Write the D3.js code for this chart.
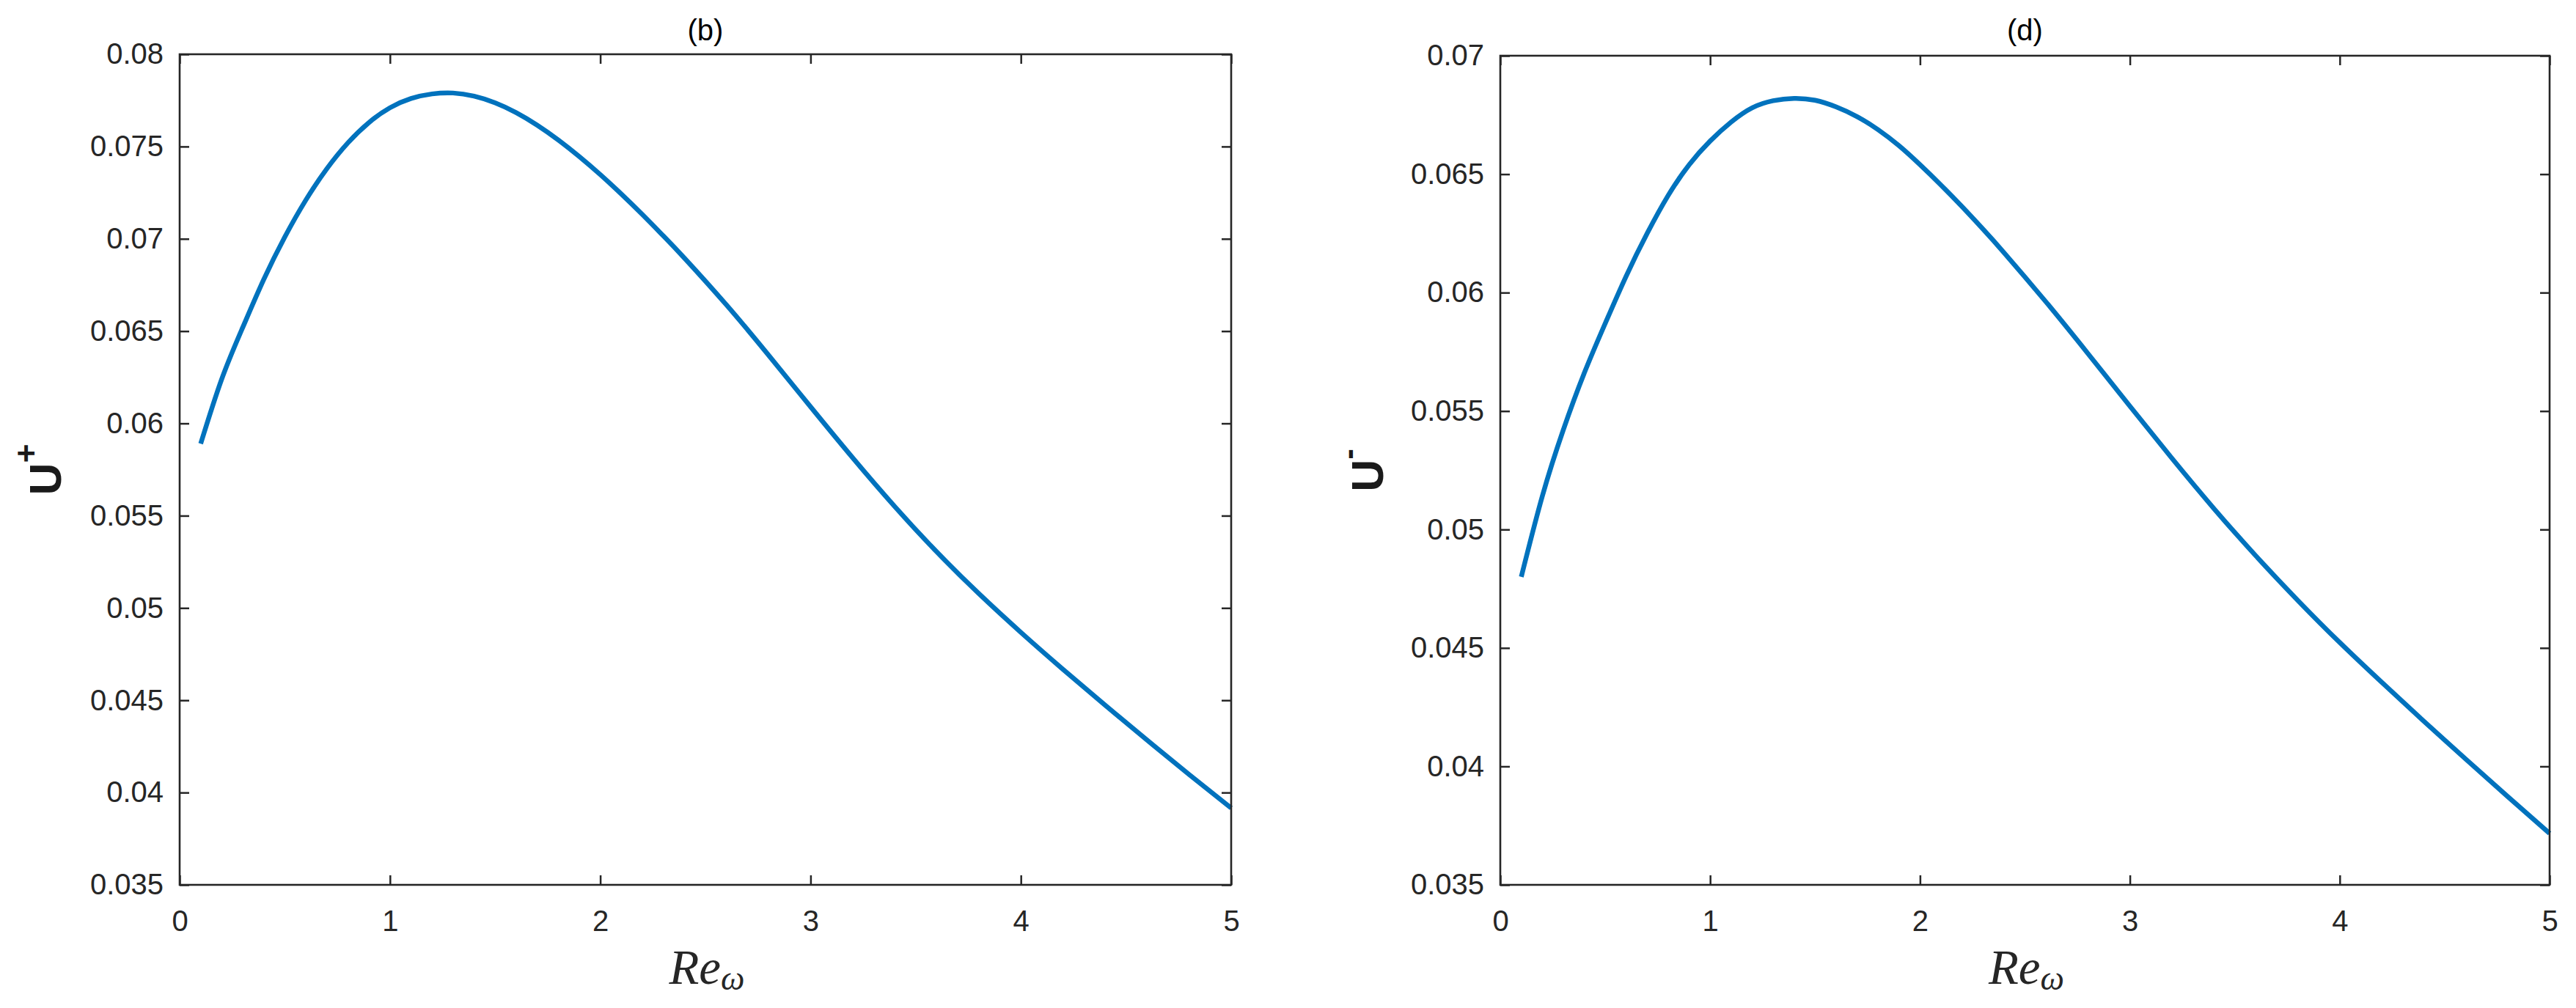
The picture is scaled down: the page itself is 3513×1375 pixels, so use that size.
<!DOCTYPE html>
<html>
<head>
<meta charset="utf-8">
<script src="https://d3js.org/d3.v7.min.js"></script>
<style>
  html, body { margin: 0; padding: 0; background: #ffffff; }
  svg { display: block; }
</style>
</head>
<body>
<svg id="chart" width="3513" height="1375"></svg>
<script>
// ---------------- data ----------------
const reOmega = [0.1, 0.2, 0.3, 0.4, 0.5, 0.6, 0.7, 0.8, 0.9, 1.0, 1.1, 1.2, 1.3, 1.4, 1.5, 1.6,
                 1.7, 1.8, 1.9, 2.0, 2.1, 2.2, 2.3, 2.4,
                 2.6, 2.8, 3.0, 3.2, 3.4, 3.6, 3.8, 4.0, 4.2, 4.4, 4.6, 4.8, 5.0];

// panel (b): U+
const uPlus = [0.0589, 0.0624, 0.0652, 0.0678, 0.0701, 0.0721, 0.0738, 0.0752, 0.0763, 0.0771, 0.0776, 0.07785, 0.0779, 0.07773, 0.07737, 0.07684,
               0.07616, 0.07536, 0.07446, 0.07348, 0.07243, 0.07132, 0.07016, 0.06896,
               0.06642, 0.0637, 0.0609, 0.05814, 0.0555, 0.05304, 0.05078, 0.04868, 0.04668, 0.04474, 0.04284, 0.04098, 0.03916];

// panel (d): U-
const uMinus = [0.0480, 0.0514, 0.0542, 0.0566, 0.0587, 0.0607, 0.0625, 0.0641, 0.0654, 0.0664, 0.0672, 0.0678, 0.0681, 0.0682, 0.06812, 0.06784,
                0.06743, 0.06688, 0.0662, 0.0654, 0.06454, 0.06363, 0.06268, 0.06169,
                0.05961, 0.05743, 0.05521, 0.05301, 0.05089, 0.04889, 0.04701, 0.04523, 0.04355, 0.04191, 0.04031, 0.03873, 0.03717];

const xTicks = [0, 1, 2, 3, 4, 5];
const yTicksB = [0.035, 0.04, 0.045, 0.05, 0.055, 0.06, 0.065, 0.07, 0.075, 0.08];
const yTicksD = [0.035, 0.04, 0.045, 0.05, 0.055, 0.06, 0.065, 0.07];

const titles = ["(b)", "(d)"];
const yLabelSup = ["+", "-"];

// ---------------- drawing ----------------
const svg = d3.select("#chart");
svg.append("rect").attr("width", 3513).attr("height", 1375).attr("fill", "#ffffff");

const TICK_FONT = "'Liberation Sans', Arial, Helvetica, sans-serif";
const AXIS_COLOR = "#262626";
const LINE_COLOR = "#0072BD";

const panels = [
  { left: 245, right: 1679, top: 74, bottom: 1207, ydom: [0.035, 0.08], yticks: yTicksB, ys: uPlus,
    title: titles[0], sup: yLabelSup[0], ylabX: 83 },
  { left: 2046, right: 3477, top: 76, bottom: 1207, ydom: [0.035, 0.07], yticks: yTicksD, ys: uMinus,
    title: titles[1], sup: yLabelSup[1], ylabX: 1886 }
];

const fmt = v => String(+v.toFixed(3));

panels.forEach(p => {
  const x = d3.scaleLinear().domain([0, 5]).range([p.left, p.right]);
  const y = d3.scaleLinear().domain(p.ydom).range([p.bottom, p.top]);
  const g = svg.append("g");

  // curve
  const pts = reOmega.map((r, i) => [r, p.ys[i]]);
  g.append("path")
    .datum(pts)
    .attr("fill", "none")
    .attr("stroke", LINE_COLOR)
    .attr("stroke-width", 6.5)
    .attr("stroke-linejoin", "round")
    .attr("d", d3.line().x(d => x(d[0])).y(d => y(d[1])).curve(d3.curveNatural));

  const styleAxis = sel => {
    sel.selectAll(".domain").remove();
    sel.selectAll(".tick line").attr("stroke", AXIS_COLOR).attr("stroke-width", 2.5);
    sel.selectAll(".tick text").attr("fill", AXIS_COLOR).style("font-family", TICK_FONT).style("font-size", "40px");
  };

  // bottom
  g.append("g").attr("transform", `translate(0,${p.bottom})`)
    .call(d3.axisBottom(x).tickValues(xTicks).tickSize(-13).tickPadding(35).tickFormat(d3.format("d")))
    .call(styleAxis);
  // top (mirrored ticks)
  g.append("g").attr("transform", `translate(0,${p.top})`)
    .call(d3.axisTop(x).tickValues(xTicks).tickSize(-13).tickFormat(""))
    .call(styleAxis);
  // left
  g.append("g").attr("transform", `translate(${p.left},0)`)
    .call(d3.axisLeft(y).tickValues(p.yticks).tickSize(-13).tickPadding(22).tickFormat(fmt))
    .call(styleAxis);
  // right (mirrored ticks)
  g.append("g").attr("transform", `translate(${p.right},0)`)
    .call(d3.axisRight(y).tickValues(p.yticks).tickSize(-13).tickFormat(""))
    .call(styleAxis);

  // box
  g.append("rect")
    .attr("x", p.left).attr("y", p.top)
    .attr("width", p.right - p.left).attr("height", p.bottom - p.top)
    .attr("fill", "none").attr("stroke", AXIS_COLOR).attr("stroke-width", 2.6);

  // title
  g.append("text")
    .attr("x", (p.left + p.right) / 2).attr("y", 55)
    .attr("text-anchor", "middle")
    .style("font-family", TICK_FONT).style("font-size", "40px")
    .attr("fill", "#000000")
    .text(p.title);

  // x label  Re_ω
  const xl = g.append("text")
    .attr("x", (p.left + p.right) / 2 + 2).attr("y", 1342)
    .attr("text-anchor", "middle")
    .style("font-family", "'Liberation Serif', 'Times New Roman', serif")
    .style("font-style", "italic")
    .attr("fill", "#262626");
  xl.append("tspan").style("font-size", "67px").text("Re");
  xl.append("tspan").style("font-size", "46px").attr("dy", 8).text("ω");

  // y label  U^+ / U^-
  const yl = g.append("text")
    .attr("transform", `translate(${p.ylabX},${(p.top + p.bottom) / 2}) rotate(-90)`)
    .attr("text-anchor", "middle")
    .style("font-family", TICK_FONT)
    .style("font-weight", "bold")
    .attr("fill", "#1a1a1a");
  yl.append("tspan").style("font-size", "61px").text("U");
  yl.append("tspan").style("font-size", "44px").attr("dy", -32).text(p.sup);
});
</script>
</body>
</html>
